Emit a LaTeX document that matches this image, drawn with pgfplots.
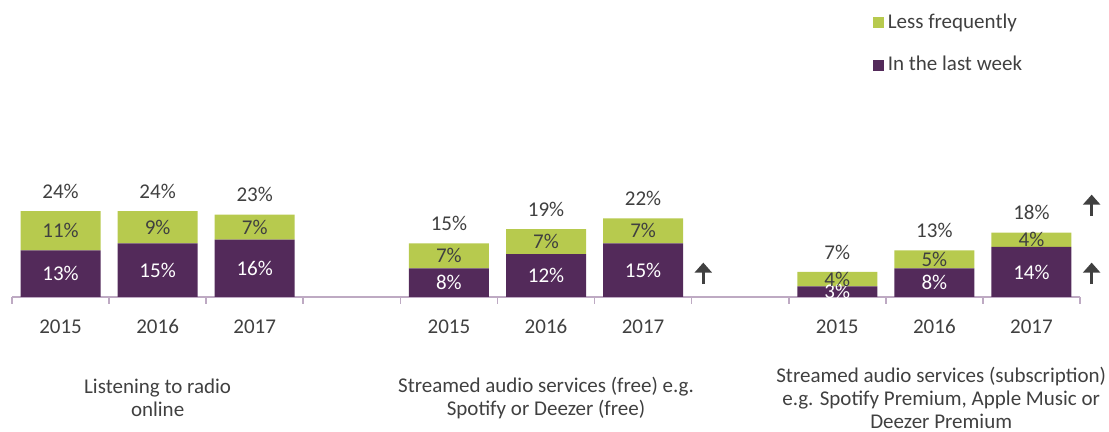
\documentclass[border=0pt]{standalone}
\usepackage{pgfplots}
\pgfplotsset{compat=1.18}
\usepackage{pgfplotstable}
\usepackage{fontspec}
\setmainfont{Carlito}
\usetikzlibrary{arrows.meta}
\definecolor{cgreen}{RGB}{183,202,78}
\definecolor{cpurple}{RGB}{83,42,90}
\definecolor{ctext}{RGB}{64,64,64}
\definecolor{caxis}{RGB}{190,170,195}
\pgfplotstableread{
x week less total
0 13 11 24
1 15 9 24
2 16 7 23
4 8 7 15
5 12 7 19
6 15 7 22
8 3 4 7
9 8 5 13
10 14 4 18
}\datatable
\pgfplotsset{
  common/.style={
    at={(0,0)}, anchor=south west,
    scale only axis, width=534pt, height=148.5pt,
    xmin=-0.5, xmax=10.5, ymin=0, ymax=83,
    clip=false,
  }
}
\newcommand{\chartfont}{\fontsize{10.5}{12}\selectfont}
\begin{document}
\chartfont
\begin{tikzpicture}
\path[use as bounding box] (-6pt,-67.5pt) rectangle (548.5pt,148.5pt);
\begin{axis}[
  common,
  ybar stacked, bar width=0.824,
  hide y axis,
  axis x line*=bottom,
  axis line style={caxis, line width=0.8pt},
  xtick={0,1,2,4,5,6,8,9,10},
  xticklabels={2015,2016,2017,2015,2016,2017,2015,2016,2017},
  major tick length=0pt,
  minor xtick={-0.5,0.5,1.5,2.5,3.5,4.5,5.5,6.5,7.5,8.5,9.5,10.5},
  minor tick length=3.5pt,
  tick align=outside,
  minor tick style={caxis, line width=0.8pt},
  major tick style={draw=none},
  xticklabel style={font=\chartfont, text=ctext, yshift=-7.5pt},
  legend style={at={(0.80,0.983)}, anchor=north west, draw=none, fill=none,
    font=\chartfont, text=ctext, row sep=8.5pt},
  legend cell align=left,
  legend image code/.code={\fill[#1] (0pt,-2.75pt) rectangle (5.5pt,2.75pt);},
  reverse legend,
]
\addplot[fill=cpurple, draw=none] table[x=x, y=week] {\datatable};
\addlegendentry{In the last week}
\addplot[fill=cgreen, draw=none] table[x=x, y=less] {\datatable};
\addlegendentry{Less frequently}

\draw[ctext, line width=1.3pt, -{Triangle[width=8.5pt,length=5pt]}] (axis cs:6.62,3.6) -- (axis cs:6.62,9.6);
\draw[ctext, line width=1.3pt, -{Triangle[width=8.5pt,length=5pt]}] (axis cs:10.62,3.6) -- (axis cs:10.62,9.6);
\draw[ctext, line width=1.3pt, -{Triangle[width=8.5pt,length=5pt]}] (axis cs:10.62,22.6) -- (axis cs:10.62,28.6);

\node[align=center, text=ctext, font=\fontsize{10.5}{11.5}\selectfont, yshift=-50.5pt] at (axis cs:1,0) {Listening to radio\\online};
\node[align=center, text=ctext, font=\fontsize{10.5}{11.5}\selectfont, yshift=-50.5pt] at (axis cs:5,0) {Streamed audio services (free) e.g.\\Spotify or Deezer (free)};
\node[align=center, text=ctext, font=\fontsize{10.5}{11.5}\selectfont, yshift=-50.5pt] at (axis cs:9.07,0) {Streamed audio services (subscription)\\e.g. Spotify Premium, Apple Music or\\Deezer Premium};
\end{axis}
\begin{axis}[
  common,
  hide axis,
  nodes near coords={\pgfplotspointmeta\%},
  point meta=explicit symbolic,
  every node near coord/.append style={font=\chartfont, anchor=center},
]
\addplot[draw=none, mark=none, nodes near coords style={text=white}]
  table[x=x, y expr=\thisrow{week}/2, meta=week] {\datatable};
\addplot[draw=none, mark=none, nodes near coords style={text=ctext}]
  table[x=x, y expr=\thisrow{week}+\thisrow{less}/2, meta=less] {\datatable};
\addplot[draw=none, mark=none, nodes near coords style={text=ctext, yshift=10pt}]
  table[x=x, y=total, meta=total] {\datatable};
\end{axis}
\end{tikzpicture}
\end{document}
